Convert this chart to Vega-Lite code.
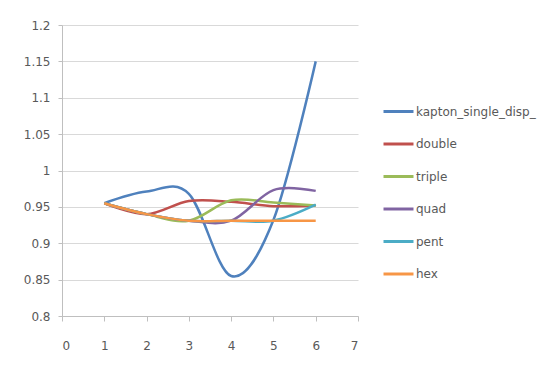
{
  "$schema": "https://vega.github.io/schema/vega-lite/v6.json",
  "width": 296,
  "height": 291,
  "autosize": {"type": "none"},
  "padding": {"left": 62, "top": 25, "right": 187, "bottom": 58},
  "background": "white",
  "config": {"view": {"stroke": null}, "font": "DejaVu Sans"},
  "data": {
    "values": [
      {"series": "kapton_single_disp_", "x": 1, "y": 0.955},
      {"series": "kapton_single_disp_", "x": 2, "y": 0.971},
      {"series": "kapton_single_disp_", "x": 3, "y": 0.968},
      {"series": "kapton_single_disp_", "x": 4, "y": 0.855},
      {"series": "kapton_single_disp_", "x": 5, "y": 0.932},
      {"series": "kapton_single_disp_", "x": 6, "y": 1.15},
      {"series": "double", "x": 1, "y": 0.955},
      {"series": "double", "x": 2, "y": 0.94},
      {"series": "double", "x": 3, "y": 0.958},
      {"series": "double", "x": 4, "y": 0.957},
      {"series": "double", "x": 5, "y": 0.951},
      {"series": "double", "x": 6, "y": 0.952},
      {"series": "triple", "x": 1, "y": 0.955},
      {"series": "triple", "x": 2, "y": 0.94},
      {"series": "triple", "x": 3, "y": 0.931},
      {"series": "triple", "x": 4, "y": 0.959},
      {"series": "triple", "x": 5, "y": 0.956},
      {"series": "triple", "x": 6, "y": 0.952},
      {"series": "quad", "x": 1, "y": 0.955},
      {"series": "quad", "x": 2, "y": 0.94},
      {"series": "quad", "x": 3, "y": 0.931},
      {"series": "quad", "x": 4, "y": 0.931},
      {"series": "quad", "x": 5, "y": 0.973},
      {"series": "quad", "x": 6, "y": 0.972},
      {"series": "pent", "x": 1, "y": 0.955},
      {"series": "pent", "x": 2, "y": 0.94},
      {"series": "pent", "x": 3, "y": 0.931},
      {"series": "pent", "x": 4, "y": 0.931},
      {"series": "pent", "x": 5, "y": 0.931},
      {"series": "pent", "x": 6, "y": 0.953},
      {"series": "hex", "x": 1, "y": 0.955},
      {"series": "hex", "x": 2, "y": 0.94},
      {"series": "hex", "x": 3, "y": 0.931},
      {"series": "hex", "x": 4, "y": 0.931},
      {"series": "hex", "x": 5, "y": 0.931},
      {"series": "hex", "x": 6, "y": 0.931}
    ]
  },
  "mark": {"type": "line", "interpolate": "cardinal", "strokeWidth": 2.5},
  "encoding": {
    "x": {
      "field": "x",
      "type": "quantitative",
      "scale": {"domain": [0, 7], "nice": false},
      "axis": {
        "title": null,
        "values": [0, 1, 2, 3, 4, 5, 6, 7],
        "format": "d",
        "grid": false,
        "domainColor": "#bfbfbf",
        "tickColor": "#bfbfbf",
        "tickSize": 5,
        "labelPadding": 19,
        "labelColor": "#595959",
        "labelFontSize": 12
      }
    },
    "y": {
      "field": "y",
      "type": "quantitative",
      "scale": {"domain": [0.8, 1.2], "nice": false, "zero": false},
      "axis": {
        "title": null,
        "values": [0.8, 0.85, 0.9, 0.95, 1, 1.05, 1.1, 1.15, 1.2],
        "format": ".3~g",
        "grid": true,
        "gridColor": "#d9d9d9",
        "domainColor": "#bfbfbf",
        "tickColor": "#bfbfbf",
        "tickSize": 4,
        "labelPadding": 8,
        "labelColor": "#595959",
        "labelFontSize": 12
      }
    },
    "color": {
      "field": "series",
      "type": "nominal",
      "sort": null,
      "scale": {
        "domain": ["kapton_single_disp_", "double", "triple", "quad", "pent", "hex"],
        "range": ["#4F81BD", "#C0504D", "#9BBB59", "#8064A2", "#4BACC6", "#F79646"]
      },
      "legend": {
        "title": null,
        "orient": "none",
        "legendX": 320,
        "legendY": 70,
        "symbolType": "stroke",
        "symbolSize": 900,
        "symbolStrokeWidth": 3,
        "rowPadding": 9.5,
        "labelOffset": 1,
        "labelFontSize": 12,
        "labelColor": "#595959"
      }
    }
  }
}
